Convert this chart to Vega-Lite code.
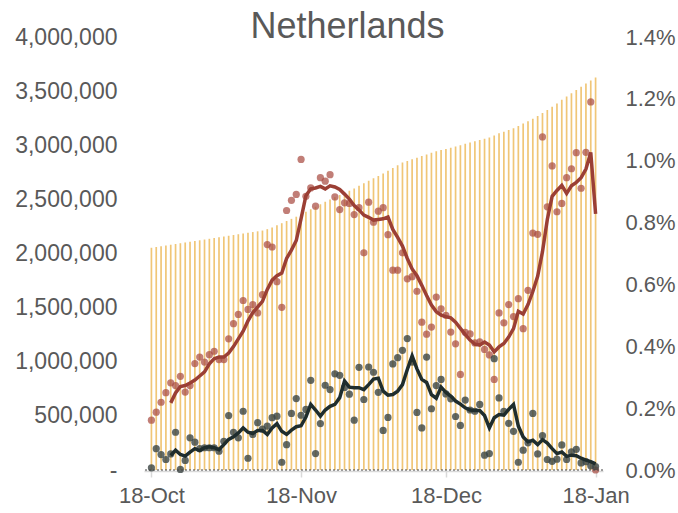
{
"$schema": "https://vega.github.io/schema/vega-lite/v6.json",
"width": 459, "height": 433,
"autosize": {"type": "none"},
"padding": {"left": 144, "top": 37, "right": 75, "bottom": 43},
"background": "white",
"config": {"view": {"stroke": null}, "font": "Liberation Sans", "axis": {"grid": false, "labelFont": "Liberation Sans", "labelFontSize": 22, "labelColor": "#595959"}},
"title": {"text": "Netherlands", "fontSize": 36, "fontWeight": "normal", "color": "#595959", "font": "Liberation Sans", "anchor": "middle", "frame": "group", "dx": -26, "baseline": "alphabetic", "offset": -48},
"data": {"values": [
{"d":"2020-10-18","c":2053000,"r":0.00161,"b":0.00007},
{"d":"2020-10-19","c":2060000,"r":0.00187,"b":0.00069},
{"d":"2020-10-20","c":2067000,"r":0.00219,"b":0.00050},
{"d":"2020-10-21","c":2074000,"r":0.00250,"b":0.00034},
{"d":"2020-10-22","c":2081000,"r":0.00282,"b":0.00052,"ra":0.00217,"ba":0.00047},
{"d":"2020-10-23","c":2088000,"r":0.00273,"b":0.00122,"ra":0.00249,"ba":0.00064},
{"d":"2020-10-24","c":2095000,"r":0.00303,"b":0.00002,"ra":0.00270,"ba":0.00050},
{"d":"2020-10-25","c":2102000,"r":0.00252,"b":0.00031,"ra":0.00273,"ba":0.00045},
{"d":"2020-10-26","c":2108000,"r":0.00273,"b":0.00104,"ra":0.00281,"ba":0.00058},
{"d":"2020-10-27","c":2115000,"r":0.00344,"b":0.00090,"ra":0.00291,"ba":0.00069},
{"d":"2020-10-28","c":2122000,"r":0.00365,"b":0.00069,"ra":0.00304,"ba":0.00063},
{"d":"2020-10-29","c":2129000,"r":0.00349,"b":0.00072,"ra":0.00317,"ba":0.00072},
{"d":"2020-10-30","c":2136000,"r":0.00373,"b":0.00072,"ra":0.00343,"ba":0.00075},
{"d":"2020-10-31","c":2143000,"r":0.00384,"b":0.00072,"ra":0.00360,"ba":0.00072},
{"d":"2020-11-01","c":2150000,"r":0.00357,"b":0.00061,"ra":0.00365,"ba":0.00066},
{"d":"2020-11-02","c":2157000,"r":0.00357,"b":0.00093,"ra":0.00365,"ba":0.00082},
{"d":"2020-11-03","c":2164000,"r":0.00424,"b":0.00176,"ra":0.00378,"ba":0.00099},
{"d":"2020-11-04","c":2171000,"r":0.00473,"b":0.00122,"ra":0.00399,"ba":0.00107},
{"d":"2020-11-05","c":2178000,"r":0.00503,"b":0.00104,"ra":0.00424,"ba":0.00120},
{"d":"2020-11-06","c":2184000,"r":0.00548,"b":0.00190,"ra":0.00449,"ba":0.00136},
{"d":"2020-11-07","c":2191000,"r":0.00519,"b":0.00038,"ra":0.00482,"ba":0.00122},
{"d":"2020-11-08","c":2198000,"r":0.00535,"b":0.00115,"ra":0.00509,"ba":0.00118},
{"d":"2020-11-09","c":2205000,"r":0.00508,"b":0.00153,"ra":0.00527,"ba":0.00128},
{"d":"2020-11-10","c":2212000,"r":0.00567,"b":0.00132,"ra":0.00545,"ba":0.00128},
{"d":"2020-11-11","c":2225000,"r":0.00729,"b":0.00142,"ra":0.00584,"ba":0.00115},
{"d":"2020-11-12","c":2240000,"r":0.00721,"b":0.00169,"ra":0.00614,"ba":0.00136},
{"d":"2020-11-13","c":2260000,"r":0.00609,"b":0.00174,"ra":0.00628,"ba":0.00150},
{"d":"2020-11-14","c":2280000,"r":0.00526,"b":0.00025,"ra":0.00637,"ba":0.00125},
{"d":"2020-11-15","c":2300000,"r":0.00839,"b":0.00082,"ra":0.00684,"ba":0.00115},
{"d":"2020-11-16","c":2320000,"r":0.00872,"b":0.00183,"ra":0.00711,"ba":0.00129},
{"d":"2020-11-17","c":2340000,"r":0.00891,"b":0.00231,"ra":0.00742,"ba":0.00140},
{"d":"2020-11-18","c":2362000,"r":0.01004,"b":0.00177,"ra":0.00813,"ba":0.00143},
{"d":"2020-11-19","c":2385000,"r":0.00885,"b":0.00196,"ra":0.00887,"ba":0.00171},
{"d":"2020-11-20","c":2408000,"r":0.00912,"b":0.00290,"ra":0.00909,"ba":0.00212},
{"d":"2020-11-21","c":2432000,"r":0.00853,"b":0.00053,"ra":0.00912,"ba":0.00194},
{"d":"2020-11-22","c":2455000,"r":0.00945,"b":0.00150,"ra":0.00917,"ba":0.00174},
{"d":"2020-11-23","c":2478000,"r":0.00934,"b":0.00274,"ra":0.00909,"ba":0.00194},
{"d":"2020-11-24","c":2500000,"r":0.00955,"b":0.00260,"ra":0.00919,"ba":0.00206},
{"d":"2020-11-25","c":2520000,"r":0.00883,"b":0.00311,"ra":0.00915,"ba":0.00212},
{"d":"2020-11-26","c":2540000,"r":0.00842,"b":0.00306,"ra":0.00907,"ba":0.00234},
{"d":"2020-11-27","c":2560000,"r":0.00864,"b":0.00267,"ra":0.00892,"ba":0.00288},
{"d":"2020-11-28","c":2580000,"r":0.00862,"b":0.00245,"ra":0.00876,"ba":0.00268},
{"d":"2020-11-29","c":2600000,"r":0.00826,"b":0.00161,"ra":0.00855,"ba":0.00266},
{"d":"2020-11-30","c":2625000,"r":0.00848,"b":0.00332,"ra":0.00841,"ba":0.00266},
{"d":"2020-12-01","c":2650000,"r":0.00702,"b":0.00228,"ra":0.00824,"ba":0.00260},
{"d":"2020-12-02","c":2672000,"r":0.00866,"b":0.00333,"ra":0.00817,"ba":0.00276},
{"d":"2020-12-03","c":2694000,"r":0.00801,"b":0.00316,"ra":0.00808,"ba":0.00294},
{"d":"2020-12-04","c":2715000,"r":0.00837,"b":0.00251,"ra":0.00810,"ba":0.00297},
{"d":"2020-12-05","c":2740000,"r":0.00848,"b":0.00128,"ra":0.00812,"ba":0.00255},
{"d":"2020-12-06","c":2765000,"r":0.00761,"b":0.00170,"ra":0.00818,"ba":0.00242},
{"d":"2020-12-07","c":2790000,"r":0.00646,"b":0.00343,"ra":0.00778,"ba":0.00244},
{"d":"2020-12-08","c":2815000,"r":0.00646,"b":0.00363,"ra":0.00752,"ba":0.00255},
{"d":"2020-12-09","c":2840000,"r":0.00702,"b":0.00387,"ra":0.00724,"ba":0.00276},
{"d":"2020-12-10","c":2855000,"r":0.00618,"b":0.00425,"ra":0.00684,"ba":0.00325},
{"d":"2020-12-11","c":2870000,"r":0.00625,"b":0.00349,"ra":0.00650,"ba":0.00369},
{"d":"2020-12-12","c":2885000,"r":0.00578,"b":0.00186,"ra":0.00628,"ba":0.00327},
{"d":"2020-12-13","c":2900000,"r":0.00478,"b":0.00136,"ra":0.00597,"ba":0.00293},
{"d":"2020-12-14","c":2915000,"r":0.00439,"b":0.00365,"ra":0.00564,"ba":0.00283},
{"d":"2020-12-15","c":2930000,"r":0.00462,"b":0.00198,"ra":0.00533,"ba":0.00244},
{"d":"2020-12-16","c":2945000,"r":0.00559,"b":0.00273,"ra":0.00512,"ba":0.00232},
{"d":"2020-12-17","c":2955000,"r":0.00521,"b":0.00293,"ra":0.00501,"ba":0.00268},
{"d":"2020-12-18","c":2965000,"r":0.00500,"b":0.00246,"ra":0.00496,"ba":0.00251},
{"d":"2020-12-19","c":2977000,"r":0.00446,"b":0.00230,"ra":0.00492,"ba":0.00239},
{"d":"2020-12-20","c":2989000,"r":0.00408,"b":0.00173,"ra":0.00478,"ba":0.00223},
{"d":"2020-12-21","c":3001000,"r":0.00309,"b":0.00144,"ra":0.00458,"ba":0.00213},
{"d":"2020-12-22","c":3013000,"r":0.00445,"b":0.00226,"ra":0.00438,"ba":0.00201},
{"d":"2020-12-23","c":3025000,"r":0.00440,"b":0.00194,"ra":0.00420,"ba":0.00194},
{"d":"2020-12-24","c":3037000,"r":0.00411,"b":0.00190,"ra":0.00407,"ba":0.00192},
{"d":"2020-12-25","c":3048000,"r":0.00414,"b":0.00212,"ra":0.00404,"ba":0.00192},
{"d":"2020-12-26","c":3060000,"r":0.00390,"b":0.00048,"ra":0.00414,"ba":0.00176},
{"d":"2020-12-27","c":3072000,"r":0.00372,"b":0.00053,"ra":0.00404,"ba":0.00136},
{"d":"2020-12-28","c":3090000,"r":0.00293,"b":0.00360,"ra":0.00382,"ba":0.00169},
{"d":"2020-12-29","c":3110000,"r":0.00508,"b":0.00233,"ra":0.00398,"ba":0.00179},
{"d":"2020-12-30","c":3125000,"r":0.00476,"b":0.00190,"ra":0.00409,"ba":0.00177},
{"d":"2020-12-31","c":3142000,"r":0.00535,"b":0.00151,"ra":0.00430,"ba":0.00196},
{"d":"2021-01-01","c":3158000,"r":0.00496,"b":0.00125,"ra":0.00457,"ba":0.00212},
{"d":"2021-01-02","c":3178000,"r":0.00554,"b":0.00025,"ra":0.00513,"ba":0.00142},
{"d":"2021-01-03","c":3200000,"r":0.00457,"b":0.00064,"ra":0.00504,"ba":0.00107},
{"d":"2021-01-04","c":3222000,"r":0.00581,"b":0.00088,"ra":0.00535,"ba":0.00091},
{"d":"2021-01-05","c":3245000,"r":0.00766,"b":0.00183,"ra":0.00577,"ba":0.00096},
{"d":"2021-01-06","c":3270000,"r":0.00762,"b":0.00052,"ra":0.00626,"ba":0.00082},
{"d":"2021-01-07","c":3298000,"r":0.01077,"b":0.00111,"ra":0.00706,"ba":0.00098},
{"d":"2021-01-08","c":3326000,"r":0.00851,"b":0.00034,"ra":0.00810,"ba":0.00087},
{"d":"2021-01-09","c":3355000,"r":0.00983,"b":0.00028,"ra":0.00885,"ba":0.00069},
{"d":"2021-01-10","c":3385000,"r":0.00835,"b":0.00035,"ra":0.00904,"ba":0.00053},
{"d":"2021-01-11","c":3420000,"r":0.00862,"b":0.00081,"ra":0.00920,"ba":0.00058},
{"d":"2021-01-12","c":3450000,"r":0.00945,"b":0.00034,"ra":0.00894,"ba":0.00044},
{"d":"2021-01-13","c":3480000,"r":0.00974,"b":0.00059,"ra":0.00919,"ba":0.00048},
{"d":"2021-01-14","c":3510000,"r":0.01026,"b":0.00067,"ra":0.00930,"ba":0.00046},
{"d":"2021-01-15","c":3540000,"r":0.00911,"b":0.00023,"ra":0.00945,"ba":0.00038},
{"d":"2021-01-16","c":3570000,"r":0.01027,"b":0.00027,"ra":0.00973,"ba":0.00032},
{"d":"2021-01-17","c":3598000,"r":0.01190,"b":0.00014,"ra":0.01027,"ba":0.00027},
{"d":"2021-01-18","c":3626000,"r":0.0,"b":0.00011,"ra":0.00828,"ba":0.00020}
]},
"encoding": {
  "x": {"field": "d", "type": "temporal",
    "scale": {"type": "utc", "domain": [{"year": 2020, "month": 10, "date": 17, "hours": 12, "utc": true}, {"year": 2021, "month": 1, "date": 18, "hours": 12, "utc": true}]},
    "axis": {"title": null, "values": [{"year": 2020, "month": 10, "date": 18, "utc": true}, {"year": 2020, "month": 11, "date": 18, "utc": true}, {"year": 2020, "month": 12, "date": 18, "utc": true}, {"year": 2021, "month": 1, "date": 18, "utc": true}],
      "labelExpr": "utcFormat(datum.value, '%d-%b')", "domainColor": "#d9d9d9", "domainWidth": 1.5, "tickColor": "#d9d9d9", "tickWidth": 1.5, "tickSize": 6, "labelPadding": 8, "labelFlush": false, "labelOverlap": false, "offset": 1}}
},
"layer": [
  {"mark": {"type": "bar", "width": 1.7, "color": "#f0c677"},
   "encoding": {"y": {"field": "c", "type": "quantitative", "scale": {"domain": [0, 4000000]},
     "axis": {"title": null, "orient": "left", "values": [0, 500000, 1000000, 1500000, 2000000, 2500000, 3000000, 3500000, 4000000], "labelExpr": "datum.value == 0 ? '-\u00a0\u00a0\u00a0' : format(datum.value, ',')", "labelFontSize": 23, "ticks": false, "domain": false, "labelPadding": 27}}}},
  {"layer": [
    {"mark": {"type": "circle", "size": 52, "color": "#a94c42", "opacity": 0.72},
     "encoding": {"y": {"field": "r", "type": "quantitative", "scale": {"domain": [0, 0.014]},
       "axis": {"title": null, "orient": "right", "values": [0, 0.002, 0.004, 0.006, 0.008, 0.01, 0.012, 0.014], "format": ".1%", "ticks": false, "domain": false, "labelPadding": 22}}}},
    {"mark": {"type": "circle", "size": 52, "color": "#3b4543", "opacity": 0.8},
     "encoding": {"y": {"field": "b", "type": "quantitative", "scale": {"domain": [0, 0.014]},
       "axis": {"title": null, "orient": "right", "values": [0, 0.002, 0.004, 0.006, 0.008, 0.01, 0.012, 0.014], "format": ".1%", "ticks": false, "domain": false, "labelPadding": 22}}}},
    {"data": {"values": [{}]}, "mark": {"type": "rule", "color": "#404040", "strokeWidth": 1, "strokeDash": [2, 2]},
     "encoding": {"y": {"datum": 0, "type": "quantitative", "scale": {"domain": [0, 0.014]},
       "axis": {"title": null, "orient": "right", "values": [0, 0.002, 0.004, 0.006, 0.008, 0.01, 0.012, 0.014], "format": ".1%", "ticks": false, "domain": false, "labelPadding": 22}}, "x": null}},
    {"mark": {"type": "line", "color": "#9b3f35", "strokeWidth": 3.5},
     "encoding": {"y": {"field": "ra", "type": "quantitative", "scale": {"domain": [0, 0.014]},
       "axis": {"title": null, "orient": "right", "values": [0, 0.002, 0.004, 0.006, 0.008, 0.01, 0.012, 0.014], "format": ".1%", "ticks": false, "domain": false, "labelPadding": 22}}}},
    {"mark": {"type": "line", "color": "#1f2d2d", "strokeWidth": 3.5},
     "encoding": {"y": {"field": "ba", "type": "quantitative", "scale": {"domain": [0, 0.014]},
       "axis": {"title": null, "orient": "right", "values": [0, 0.002, 0.004, 0.006, 0.008, 0.01, 0.012, 0.014], "format": ".1%", "ticks": false, "domain": false, "labelPadding": 22}}}}
  ]}
],
"resolve": {"scale": {"y": "independent"}}
}
